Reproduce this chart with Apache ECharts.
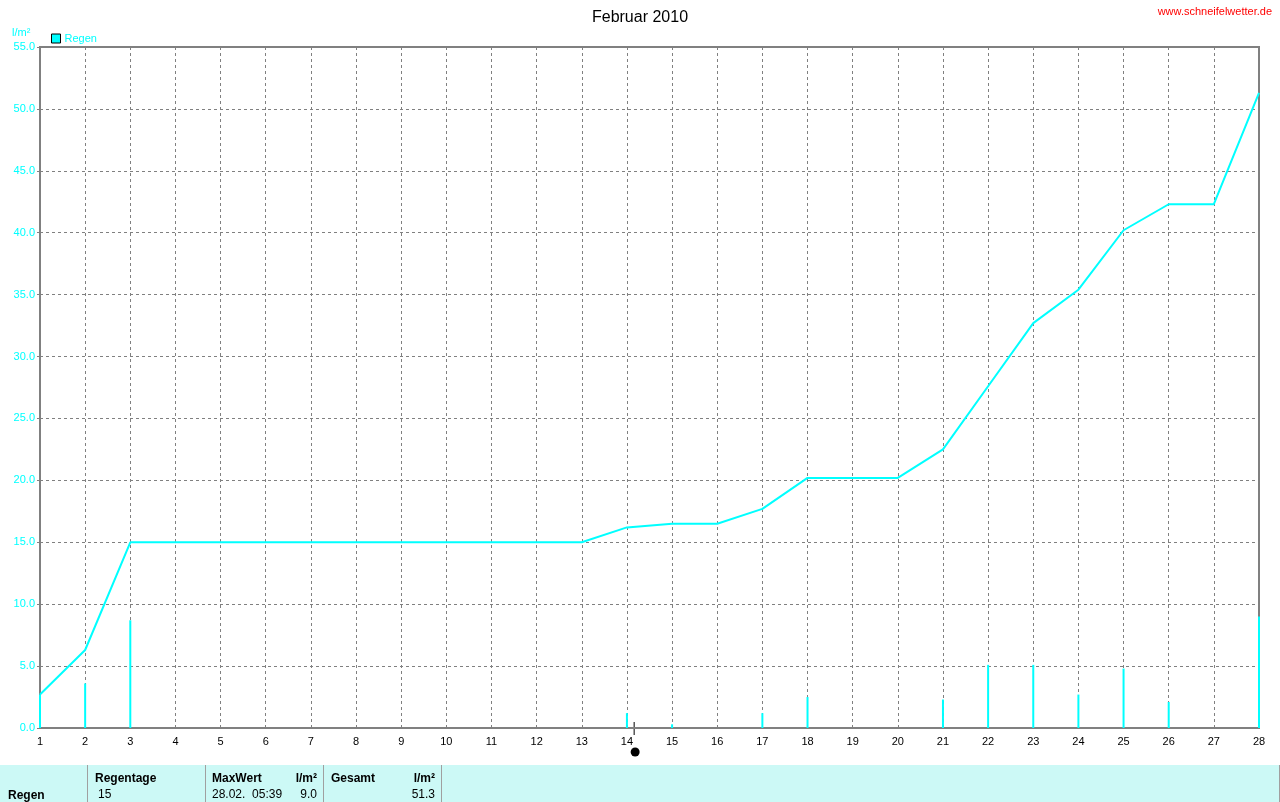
<!DOCTYPE html>
<html>
<head>
<meta charset="utf-8">
<script src="https://cdn.jsdelivr.net/npm/echarts@6/dist/echarts.min.js"></script>
<style>
html,body{margin:0;padding:0;background:#fff;}
#c{width:1280px;height:802px;}
</style>
</head>
<body>
<div id="c"></div>
<script>
// Days of February 2010
var days = [1,2,3,4,5,6,7,8,9,10,11,12,13,14,15,16,17,18,19,20,21,22,23,24,25,26,27,28];
// Daily rain (l/m²)
var dailyRain = [2.7,3.6,8.7,0,0,0,0,0,0,0,0,0,0,1.2,0.3,0,1.2,2.5,0,0,2.3,5.1,5.1,2.7,4.8,2.1,0,9.0];
// Cumulative rain (l/m²)
var cumRain = [2.7,6.3,15.0,15.0,15.0,15.0,15.0,15.0,15.0,15.0,15.0,15.0,15.0,16.2,16.5,16.5,17.7,20.2,20.2,20.2,22.5,27.6,32.7,35.4,40.2,42.3,42.3,51.3];
var yTicks = [0,5,10,15,20,25,30,35,40,45,50,55];
var moonDay = 14.16; // new moon 14.02.2010
var title = 'Februar 2010';
var siteText = 'www.schneifelwetter.de';
var unitText = 'l/m²';
var tableHeaders = ['Regentage','MaxWert','l/m²','Gesamt','l/m²'];
var tableRow = {label:'Regen', days:'15', maxTime:'28.02.  05:39', maxVal:'9.0', total:'51.3'};

var CYAN = '#00ffff', GRAY = '#808080';
var font = 'Liberation Sans, Arial, sans-serif';

var barData = days.map(function(d,i){return [d, dailyRain[i]];});
var lineData = days.map(function(d,i){return [d, cumRain[i]];});

var chart = echarts.init(document.getElementById('c'), null, {renderer:'canvas'});
var option = {
  animation:false,
  backgroundColor:'#fff',
  title:{text:title,left:'center',top:5,textStyle:{fontFamily:font,fontSize:16,fontWeight:'normal',color:'#000'}},
  legend:{data:['Regen'],left:46,top:28,itemWidth:9,itemHeight:9,itemGap:4,icon:'rect',
    itemStyle:{color:CYAN,borderColor:'#000',borderWidth:1},
    textStyle:{color:CYAN,fontFamily:font,fontSize:11,padding:[0,0,0,-1]}},
  grid:{left:40,right:21,top:47,bottom:74,show:true,borderColor:GRAY,borderWidth:2,containLabel:false},
  xAxis:{type:'value',min:1,max:28,interval:1,
    axisLine:{show:true,lineStyle:{color:GRAY,width:2}},
    axisTick:{show:false},
    axisLabel:{color:'#000',fontFamily:font,fontSize:11,margin:8},
    splitLine:{show:true,lineStyle:{color:GRAY,type:[3,3],width:1}}},
  yAxis:{type:'value',min:0,max:55,interval:5,
    axisLine:{show:true,lineStyle:{color:GRAY,width:2}},
    axisTick:{show:true,length:3,lineStyle:{color:GRAY}},
    axisLabel:{color:CYAN,fontFamily:font,fontSize:11,margin:5,formatter:function(v){return v.toFixed(1);}},
    splitLine:{show:true,lineStyle:{color:GRAY,type:[3,3],width:1}}},
  series:[
    {name:'Regen',type:'bar',data:barData,barWidth:2,itemStyle:{color:CYAN},silent:true,z:2},
    {name:'Regen',type:'line',data:lineData,showSymbol:false,symbol:'none',lineStyle:{color:CYAN,width:2},itemStyle:{color:CYAN},z:3}
  ]
};
chart.setOption(option);

var mx = chart.convertToPixel({gridIndex:0},[moonDay,0]);
var tableY = 765;
var g = [
  {type:'text',left:12,top:27,style:{text:unitText,fill:CYAN,font:'11px '+font}},
  {type:'text',right:8,top:6,style:{text:siteText,fill:'#ff0000',font:'11px '+font}},
  {type:'line',shape:{x1:mx[0],y1:mx[1]-6,x2:mx[0],y2:mx[1]+7},style:{stroke:'#000',lineWidth:1}},
  {type:'circle',shape:{cx:mx[0]+1,cy:mx[1]+24,r:4.5},style:{fill:'#000'}},
  {type:'rect',shape:{x:0,y:tableY,width:1280,height:37},style:{fill:'#ccf9f6'}},
  {type:'line',shape:{x1:87.5,y1:tableY,x2:87.5,y2:802},style:{stroke:'#a0a0a0',lineWidth:1}},
  {type:'line',shape:{x1:205.5,y1:tableY,x2:205.5,y2:802},style:{stroke:'#a0a0a0',lineWidth:1}},
  {type:'line',shape:{x1:323.5,y1:tableY,x2:323.5,y2:802},style:{stroke:'#a0a0a0',lineWidth:1}},
  {type:'line',shape:{x1:441.5,y1:tableY,x2:441.5,y2:802},style:{stroke:'#a0a0a0',lineWidth:1}},
  {type:'line',shape:{x1:1279.5,y1:tableY,x2:1279.5,y2:802},style:{stroke:'#a0a0a0',lineWidth:1}},
  {type:'text',x:8,y:790,style:{text:tableRow.label,fill:'#000',font:'bold 12px '+font}},
  {type:'text',x:95,y:773,style:{text:tableHeaders[0],fill:'#000',font:'bold 12px '+font}},
  {type:'text',x:98,y:789,style:{text:tableRow.days,fill:'#000',font:'12px '+font}},
  {type:'text',x:212,y:773,style:{text:tableHeaders[1],fill:'#000',font:'bold 12px '+font}},
  {type:'text',x:317,y:773,style:{text:tableHeaders[2],fill:'#000',font:'bold 12px '+font,align:'right'}},
  {type:'text',x:212,y:789,style:{text:tableRow.maxTime,fill:'#000',font:'12px '+font}},
  {type:'text',x:317,y:789,style:{text:tableRow.maxVal,fill:'#000',font:'12px '+font,align:'right'}},
  {type:'text',x:331,y:773,style:{text:tableHeaders[3],fill:'#000',font:'bold 12px '+font}},
  {type:'text',x:435,y:773,style:{text:tableHeaders[4],fill:'#000',font:'bold 12px '+font,align:'right'}},
  {type:'text',x:435,y:789,style:{text:tableRow.total,fill:'#000',font:'12px '+font,align:'right'}}
];
chart.setOption({graphic:g});
</script>
</body>
</html>
